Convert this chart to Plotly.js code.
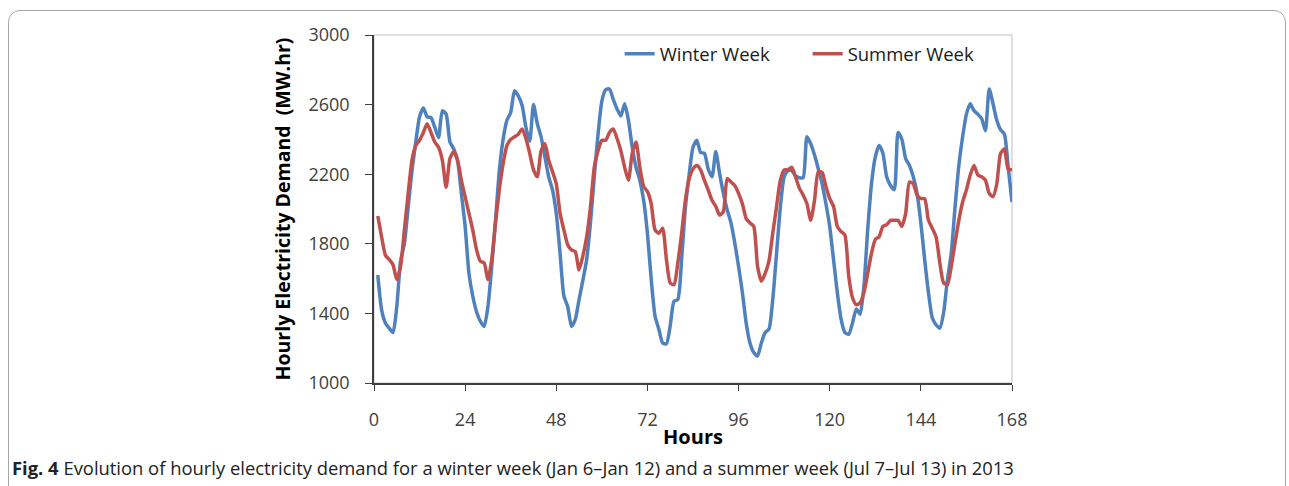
<!DOCTYPE html>
<html>
<head>
<meta charset="utf-8">
<script src="https://cdn.plot.ly/plotly-3.0.1.min.js"></script>
<style>
  html, body { margin: 0; padding: 0; background: #ffffff; }
  #frame {
    position: absolute; left: 8px; top: 10px; width: 1278px; height: 520px;
    border: 1.5px solid #a6a6a6; border-radius: 12px; box-sizing: border-box;
  }
  #chart { position: absolute; left: 0; top: 0; width: 1289px; height: 486px; }
</style>
</head>
<body>
<div id="frame"></div>
<div id="chart"></div>
<script>
// Hour of the week (1 .. 168)
const HOURS = [
  1, 2, 3, 4, 5, 6, 7, 8, 9, 10, 11, 12, 13, 14, 15, 16, 17, 18, 19, 20, 21, 22, 23, 24,
  25, 26, 27, 28, 29, 30, 31, 32, 33, 34, 35, 36, 37, 38, 39, 40, 41, 42, 43, 44, 45, 46, 47, 48,
  49, 50, 51, 52, 53, 54, 55, 56, 57, 58, 59, 60, 61, 62, 63, 64, 65, 66, 67, 68, 69, 70, 71, 72,
  73, 74, 75, 76, 77, 78, 79, 80, 81, 82, 83, 84, 85, 86, 87, 88, 89, 90, 91, 92, 93, 94, 95, 96,
  97, 98, 99, 100, 101, 102, 103, 104, 105, 106, 107, 108, 109, 110, 111, 112, 113, 114, 115, 116, 117, 118, 119, 120,
  121, 122, 123, 124, 125, 126, 127, 128, 129, 130, 131, 132, 133, 134, 135, 136, 137, 138, 139, 140, 141, 142, 143, 144,
  145, 146, 147, 148, 149, 150, 151, 152, 153, 154, 155, 156, 157, 158, 159, 160, 161, 162, 163, 164, 165, 166, 167, 168
];

// Winter week (Jan 6 - Jan 12), MW.hr
const WINTER = [
  1620, 1420, 1345, 1315, 1290, 1440, 1700, 1800, 2010, 2220, 2385, 2530, 2580, 2530, 2525, 2470, 2410, 2565, 2545, 2385, 2345, 2280, 2090, 1900,
  1630, 1500, 1410, 1355, 1325, 1440, 1670, 1935, 2220, 2400, 2510, 2555, 2680, 2650, 2595, 2470, 2390, 2600, 2490, 2415, 2300, 2185, 2110, 1975,
  1745, 1500, 1440, 1325, 1365, 1480, 1590, 1710, 1920, 2185, 2430, 2620, 2685, 2690, 2630, 2575, 2535, 2605, 2510, 2355, 2240, 2165, 2050, 1860,
  1595, 1385, 1310, 1230, 1225, 1330, 1470, 1480, 1710, 2010, 2200, 2355, 2395, 2325, 2320, 2230, 2185, 2330, 2205, 2090, 1995, 1920, 1805, 1670,
  1520, 1345, 1230, 1175, 1155, 1230, 1290, 1310, 1480, 1745, 2010, 2185, 2220, 2220, 2190, 2180, 2180, 2415, 2375, 2310, 2230, 2145, 2030, 1900,
  1710, 1520, 1365, 1290, 1280, 1345, 1425, 1395, 1555, 1880, 2145, 2300, 2365, 2320, 2185, 2135, 2110, 2440, 2400, 2290, 2250, 2185, 2090, 1920,
  1710, 1520, 1375, 1335, 1315, 1405, 1595, 1745, 2010, 2250, 2415, 2545, 2605, 2565, 2545, 2520, 2450, 2690, 2605, 2510, 2455, 2430, 2240, 2040
];

// Summer week (Jul 7 - Jul 13), MW.hr
const SUMMER = [
  1960, 1840, 1735, 1710, 1680, 1595, 1670, 1880, 2090, 2280, 2365, 2395, 2440, 2490, 2440, 2385, 2355, 2280, 2125, 2290, 2330, 2280, 2165, 2070,
  1975, 1880, 1766, 1700, 1690, 1595, 1710, 1920, 2110, 2260, 2365, 2400, 2415, 2430, 2460, 2405, 2320, 2225, 2185, 2335, 2375, 2280, 2215, 2145,
  1975, 1880, 1795, 1765, 1755, 1650, 1730, 1840, 2010, 2240, 2335, 2395, 2395, 2440, 2460, 2405, 2335, 2240, 2165, 2320, 2385, 2240, 2130, 2100,
  2030, 1880, 1860, 1890, 1710, 1575, 1565, 1690, 1860, 2050, 2175, 2230, 2250, 2225, 2165, 2110, 2050, 2015, 1965, 1985, 2175, 2155, 2135, 2090,
  2030, 1945, 1920, 1900, 1670, 1585, 1630, 1700, 1860, 2015, 2165, 2225, 2225, 2240, 2185, 2120, 2080, 2030, 1935, 2050, 2215, 2210, 2130, 2060,
  2015, 1900, 1870, 1850, 1615, 1490, 1450, 1460, 1520, 1630, 1745, 1825, 1840, 1900, 1910, 1935, 1935, 1935, 1900, 1975, 2155, 2145, 2080, 2060,
  2060, 1935, 1890, 1840, 1690, 1575, 1565, 1670, 1805, 1935, 2040, 2110, 2195, 2250, 2195, 2185, 2165, 2090, 2070, 2145, 2320, 2345, 2230, 2225
];

const X_TICKS = [0, 24, 48, 72, 96, 120, 144, 168];
const Y_TICKS = [1000, 1400, 1800, 2200, 2600, 3000];

const COLORS = { winter: "#4F81BD", summer: "#C0504D" };
const TEXT = "#404040";
const FONT = "Open Sans, sans-serif";

const traces = [
  {
    x: HOURS, y: WINTER, name: "Winter Week",
    type: "scatter", mode: "lines",
    line: { color: COLORS.winter, width: 3.5, shape: "spline", smoothing: 0.6 },
  },
  {
    x: HOURS, y: SUMMER, name: "Summer Week",
    type: "scatter", mode: "lines",
    line: { color: COLORS.summer, width: 3.5, shape: "spline", smoothing: 0.6 },
  },
];

const layout = {
  width: 1289, height: 486,
  margin: { l: 374, r: 277, t: 35, b: 103 },
  paper_bgcolor: "rgba(0,0,0,0)",
  plot_bgcolor: "rgba(0,0,0,0)",
  font: { family: FONT, color: TEXT, size: 18 },
  xaxis: {
    range: [0, 168], tickvals: X_TICKS, ticks: "outside", ticklen: 6, tickcolor: TEXT,
    showline: true, linecolor: TEXT, linewidth: 1.5, showgrid: false, zeroline: false,
    ticklabelstandoff: 14,
    tickfont: { family: FONT, size: 18, color: TEXT },
    title: { text: "<b>Hours</b>", font: { family: FONT, size: 20, color: "#000" }, standoff: 0 },
  },
  yaxis: {
    range: [1000, 3000], tickvals: Y_TICKS, ticks: "outside", ticklen: 7, tickcolor: TEXT,
    showline: true, linecolor: TEXT, linewidth: 1.5, showgrid: false, zeroline: false,
    ticklabelstandoff: 12,
    tickfont: { family: FONT, size: 18, color: TEXT },
    title: { text: "<b>Hourly Electricity Demand  (MW.hr)</b>", font: { family: FONT, size: 19.5, color: "#000" }, standoff: 13 },
  },
  shapes: [
    { type: "rect", xref: "paper", yref: "paper", x0: 0, x1: 1, y0: 0, y1: 1,
      line: { color: "#bfbfbf", width: 1 }, layer: "below" },
  ],
  showlegend: true,
  legend: {
    orientation: "h", x: 0.385, xanchor: "left", y: 0.945, yanchor: "middle",
    bgcolor: "rgba(0,0,0,0)", entrywidth: 143, entrywidthmode: "pixels",
    font: { family: FONT, size: 18.5, color: "#1a1a1a" },
  },
  annotations: [
    {
      xref: "paper", yref: "paper", x: -0.5705, y: -0.242, xanchor: "left", yanchor: "middle",
      showarrow: false, align: "left",
      text: "<b>Fig. 4</b> Evolution of hourly electricity demand for a winter week (Jan 6\u2013Jan 12) and a summer week (Jul 7\u2013Jul 13) in 2013",
      font: { family: FONT, size: 18.4, color: "#222" },
    },
  ],
};

Plotly.newPlot("chart", traces, layout, { displayModeBar: false, responsive: false });
</script>
</body>
</html>
